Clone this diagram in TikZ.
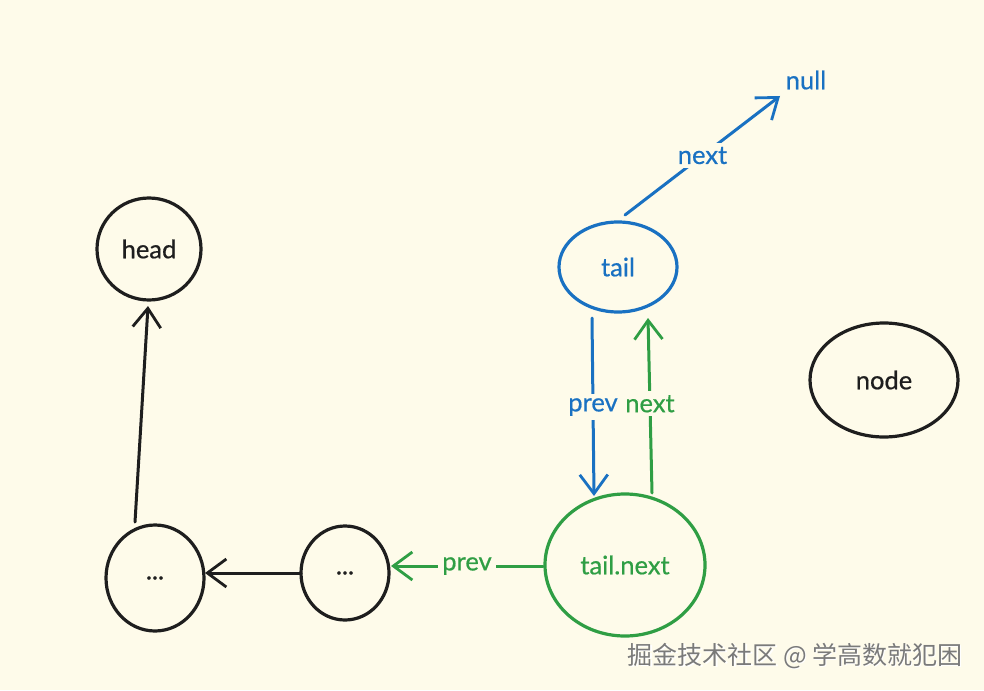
\documentclass[tikz,border=0pt]{standalone}
\usepackage{fontspec}
\setmainfont{Lato}[FakeBold=0.6]
\newfontfamily\cjk{Noto Sans CJK SC}
\usetikzlibrary{arrows.meta,shapes.geometric}
\definecolor{bg}{HTML}{FEFBEA}
\definecolor{ink}{HTML}{1E1E1E}
\definecolor{eblue}{HTML}{1971C2}
\definecolor{egreen}{HTML}{2F9E44}
\definecolor{wm}{HTML}{7A7A7A}
\tikzset{
  circ/.style={ellipse, draw=#1, line width=3.2pt, inner sep=0pt, font=\fontsize{25.5}{28}\selectfont, text=#1},
  conn/.style={draw=#1, line width=3pt, line cap=round, -{Straight Barb[length=19pt,width=28pt,line width=2.8pt]}},
  lab/.style={fill=bg, inner sep=4pt, text=#1, font=\fontsize{25.5}{28}\selectfont},
  plain/.style={text=#1, font=\fontsize{25.5}{28}\selectfont}
}
\begin{document}
\begin{tikzpicture}[x=1pt,y=-1pt]
\fill[bg] (0,0) rectangle (984,690);
\useasboundingbox (0,0) rectangle (984,690);
% nodes
\node[circ=ink, minimum width=104pt, minimum height=102pt] (head) at (149,249) {head};
\node[circ=eblue, minimum width=118pt, minimum height=90pt] (tail) at (618,267) {tail};
\node[circ=ink, minimum width=148pt, minimum height=114pt] (nd) at (884,380) {node};
\node[circ=ink, minimum width=98pt, minimum height=106pt] (d1) at (155,578) {...};
\node[circ=ink, minimum width=88pt, minimum height=94pt] (d2) at (345,573) {...};
\node[circ=egreen, minimum width=160pt, minimum height=142pt] (tn) at (625,565) {tail.next};
\node[plain=eblue] (null) at (806,80) {null};
% connector end points
\coordinate (nullend) at (780,96);
\coordinate (ts) at (625,215);
\coordinate (pa) at (592,318);
\coordinate (pb) at (594,496);
\coordinate (na) at (652,493);
\coordinate (nb) at (648,318);
\coordinate (ga) at (543,566);
\coordinate (gb) at (391,566);
\coordinate (ka) at (301,573);
\coordinate (kb) at (205,573);
\coordinate (ha) at (135,522);
\coordinate (hb) at (148,306);
% connectors
\draw[conn=eblue] (ts) -- node[lab=eblue, pos=0.5] {next} (nullend);
\draw[conn=eblue] (pa) -- node[lab=eblue, pos=0.5] {prev} (pb);
\draw[conn=egreen] (na) -- node[lab=egreen, pos=0.51] {next} (nb);
\draw[conn=egreen] (ga) -- node[lab=egreen, pos=0.5] {prev} (gb);
\draw[conn=ink] (ka) -- (kb);
\draw[conn=ink] (ha) -- (hb);
% watermark
\node[text=white, font=\cjk\fontsize{25}{28}\selectfont] (wms) at (796.5,657.5) {掘金技术社区 @ 学高数就犯困};
\node[text=wm, font=\cjk\fontsize{25}{28}\selectfont] (wmt) at (795,656) {掘金技术社区 @ 学高数就犯困};
\end{tikzpicture}
\end{document}
